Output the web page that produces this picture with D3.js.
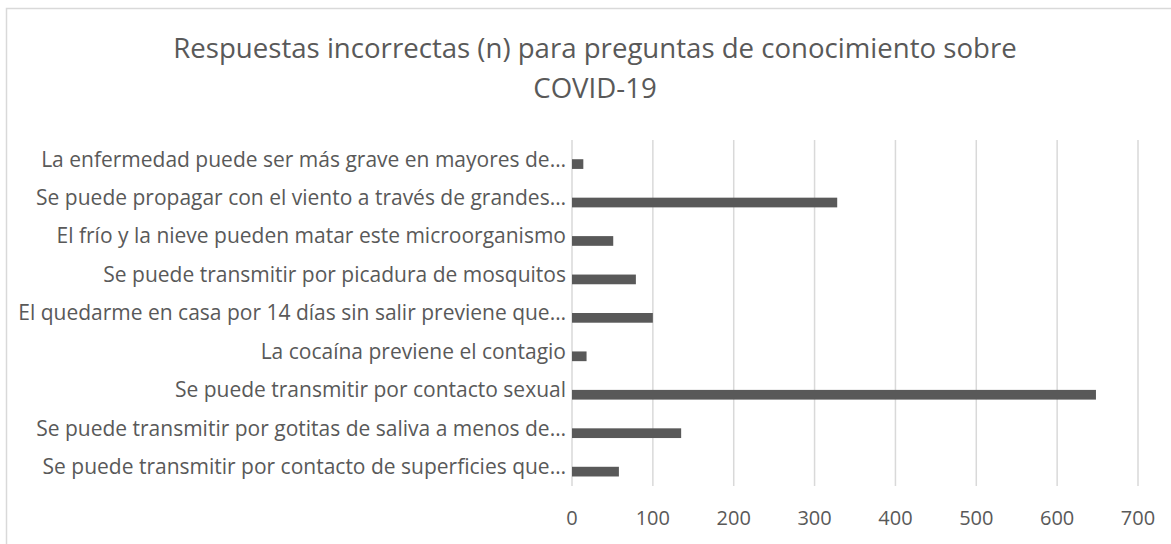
<!DOCTYPE html>
<html>
<head>
<meta charset="utf-8">
<script src="https://cdn.jsdelivr.net/npm/d3@7"></script>
<style>
  html, body { margin: 0; padding: 0; background: #fff; }
  svg text { font-family: 'Open Sans', 'Noto Sans', sans-serif; fill: #595959; }
</style>
</head>
<body>
<svg id="chart" width="1171" height="544"></svg>
<script>
const titleLines = ['Respuestas incorrectas (n) para preguntas de conocimiento sobre', 'COVID-19']
const questions = [
  'La enfermedad puede ser más grave en mayores de…',
  'Se puede propagar con el viento a través de grandes…',
  'El frío y la nieve pueden matar este microorganismo',
  'Se puede transmitir por picadura de mosquitos',
  'El quedarme en casa por 14 días sin salir previene que…',
  'La cocaína previene el contagio',
  'Se puede transmitir por contacto sexual',
  'Se puede transmitir por gotitas de saliva a menos de…',
  'Se puede transmitir por contacto de superficies que…'
]
const incorrect = [14, 328, 51, 79, 100, 18, 648, 135, 58]
const xTicks = [0, 100, 200, 300, 400, 500, 600, 700]

const margin = { left: 572, right: 33, top: 140, bottom: 58 }
const svg = d3.select('#chart')
const width = +svg.attr('width')
const height = +svg.attr('height')

// chart frame (cut off at right/bottom like the reference)
svg.append('rect')
  .attr('x', 6.5).attr('y', 8.5)
  .attr('width', 1200).attr('height', 600)
  .attr('fill', 'none').attr('stroke', '#d9d9d9').attr('stroke-width', 1.5)

svg.append('text')
  .attr('text-anchor', 'middle')
  .style('font-size', '27.6px')
  .selectAll('tspan')
  .data(titleLines)
  .enter().append('tspan')
  .attr('x', 595)
  .attr('y', (d, i) => 58 + i * 40)
  .text(d => d)

const x = d3.scaleLinear().domain([0, 700]).range([margin.left, width - margin.right])
const y = d3.scaleBand().domain(questions).range([margin.top, height - margin.bottom])
// two slots per band, data sits in the second one (Excel clustered layout)
const slot = d3.scaleBand().domain(['empty', 'n']).range([0, y.bandwidth()]).paddingInner(0).paddingOuter(0.98)

svg.append('g')
  .selectAll('line')
  .data(xTicks)
  .enter().append('line')
  .attr('x1', d => x(d)).attr('x2', d => x(d))
  .attr('y1', margin.top).attr('y2', height - margin.bottom)
  .attr('stroke', '#d9d9d9').attr('stroke-width', 1.5)

svg.append('g')
  .selectAll('text')
  .data(xTicks)
  .enter().append('text')
  .attr('x', d => x(d))
  .attr('y', 525)
  .attr('text-anchor', 'middle')
  .style('font-size', '20px')
  .text(d => d)

svg.append('g')
  .selectAll('text')
  .data(questions)
  .enter().append('text')
  .attr('x', 566)
  .attr('y', d => y(d) + y.bandwidth() / 2)
  .attr('dy', '0.35em')
  .attr('text-anchor', 'end')
  .style('font-size', '21px')
  .text(d => d)

svg.append('g')
  .selectAll('rect')
  .data(incorrect)
  .enter().append('rect')
  .attr('x', x(0))
  .attr('y', (d, i) => y(questions[i]) + slot('n'))
  .attr('width', d => x(d) - x(0))
  .attr('height', slot.bandwidth())
  .attr('fill', '#595959')
</script>
</body>
</html>
